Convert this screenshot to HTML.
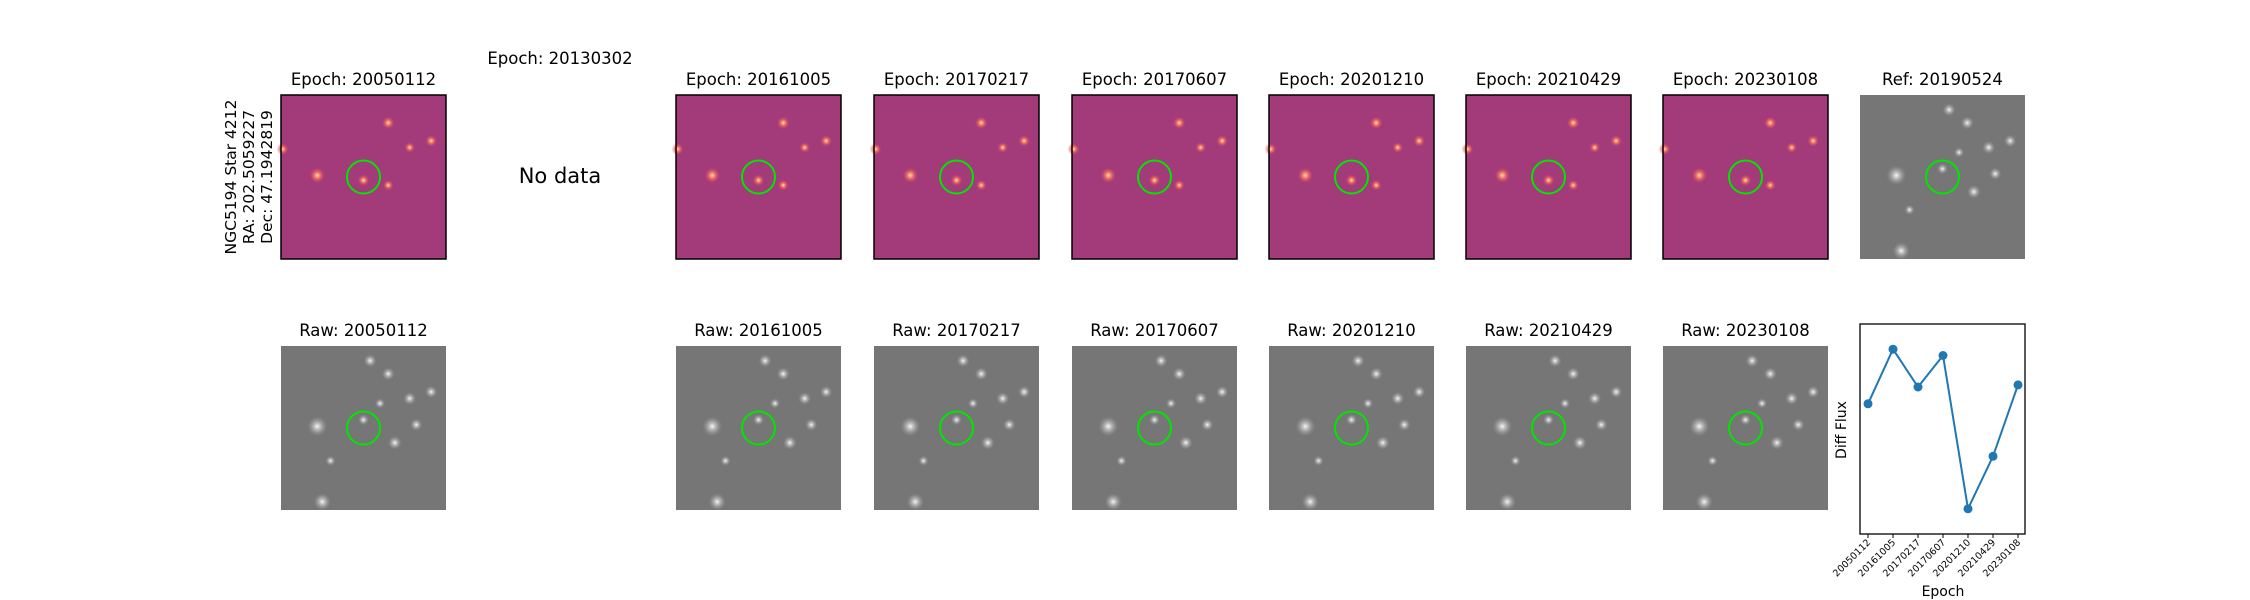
<!DOCTYPE html>
<html><head><meta charset="utf-8"><style>
body{margin:0;background:#fff}
svg{display:block;font-family:"DejaVu Sans","Liberation Sans",sans-serif}
</style></head><body>
<svg id="s" width="2250" height="600" xmlns="http://www.w3.org/2000/svg">
<defs>
<radialGradient id="gs"><stop offset="0" stop-color="#fff" stop-opacity="0.95"/><stop offset="0.5" stop-color="#ccc" stop-opacity="0.5"/><stop offset="1" stop-color="#999" stop-opacity="0"/></radialGradient>
<radialGradient id="ds"><stop offset="0" stop-color="#fde7a0"/><stop offset="0.45" stop-color="#f7705c" stop-opacity="0.8"/><stop offset="1" stop-color="#c83f73" stop-opacity="0"/></radialGradient>
</defs>
<text x="560" y="64" font-size="16.5" text-anchor="middle">Epoch: 20130302</text>
<text x="560" y="183" font-size="21" text-anchor="middle">No data</text>
<g transform="translate(236,177) rotate(-90)" font-size="15.5" text-anchor="middle">
<text x="0" y="0">NGC5194 Star 4212</text>
<text x="0" y="18">RA: 202.5059227</text>
<text x="0" y="36">Dec: 47.1942819</text>
</g>
</svg>
<script>
const svg=document.getElementById('s');
const NS='http://www.w3.org/2000/svg';
function mk(t,a,p){const e=document.createElementNS(NS,t);for(const k in a)e.setAttribute(k,a[k]);(p||svg).appendChild(e);return e;}
const diffEpochs=['20050112','20161005','20170217','20170607','20201210','20210429','20230108'];
const colX=[281,676,874,1072,1269,1466,1663];
const W=165,H=164;
const stars=[[0.22,0.49,1],[0.25,0.95,0.8],[0.54,0.09,0.5],[0.65,0.17,0.5],[0.91,0.28,0.45],[0.78,0.32,0.5],[0.82,0.48,0.45],[0.69,0.59,0.55],[0.5,0.45,0.35],[0.6,0.35,0.3],[0.3,0.7,0.3]];
const dstars=[[0.22,0.49,1],[0.65,0.17,0.7],[0.91,0.28,0.6],[0.78,0.32,0.5],[0.5,0.52,0.6],[0.01,0.33,0.6],[0.65,0.55,0.5]];
function panel(x,y,kind,title,name){
  const g=mk('g',{});
  
  
  const t=mk('text',{x:x+W/2,y:y-10,'font-size':16.5,'text-anchor':'middle'},g);t.textContent=title;
  
  
  mk('rect',{x:x,y:y,width:W,height:H,fill:kind==='d'?'#a33a7a':'#767676'},g);
  const list=kind==='d'?dstars:stars;
  list.forEach(s=>{const r=(kind==='d'?5:7)*s[2]+3;mk('circle',{cx:x+s[0]*W,cy:y+s[1]*H,r:r,fill:kind==='d'?'url(#ds)':'url(#gs)'},g);});
  if(kind==='d')mk('rect',{x:x,y:y,width:W,height:H,fill:'none',stroke:'#000','stroke-width':1.5},g);
  const c=mk('circle',{cx:x+W/2,cy:y+H/2,r:16.5,fill:'none',stroke:'#00e600','stroke-width':2},g);
  
  
}
diffEpochs.forEach((e,i)=>{panel(colX[i],95,'d','Epoch: '+e,'diff-panel-'+e);panel(colX[i],346,'g','Raw: '+e,'raw-panel-'+e);});
panel(1860,95,'g','Ref: 20190524','ref-panel');

const lcCats=diffEpochs;
const lcVals=[0.62,0.88,0.70,0.85,0.12,0.37,0.71];
const px0=1860,px1=2025,py0=324,py1=534;
const xs=i=>1868+i*(2018-1868)/(lcCats.length-1);
const ys=v=>py1-v*(py1-py0);
const ax=mk('rect',{x:px0,y:py0,width:px1-px0,height:py1-py0,fill:'none',stroke:'#000','stroke-width':1.3});


const line=mk('polyline',{points:lcVals.map((v,i)=>xs(i)+','+ys(v)).join(' '),fill:'none',stroke:'#1f77b4','stroke-width':2});


lcVals.forEach((v,i)=>{
  const p=mk('circle',{cx:xs(i),cy:ys(v),r:4.5,fill:'#1f77b4'});
  
  
  mk('line',{x1:xs(i),y1:py1,x2:xs(i),y2:py1+4,stroke:'#000','stroke-width':1});
  const t=mk('text',{x:0,y:0,'font-size':9.5,'text-anchor':'end',transform:`translate(${xs(i)+3},${py1+9}) rotate(-45)`});
  t.textContent=lcCats[i];
  
  
});
const xl=mk('text',{x:1943,y:596,'font-size':14,'text-anchor':'middle'});xl.textContent='Epoch';


const yl=mk('text',{x:0,y:0,'font-size':14,'text-anchor':'middle',transform:'translate(1846,430) rotate(-90)'});yl.textContent='Diff Flux';


</script>
</body></html>
